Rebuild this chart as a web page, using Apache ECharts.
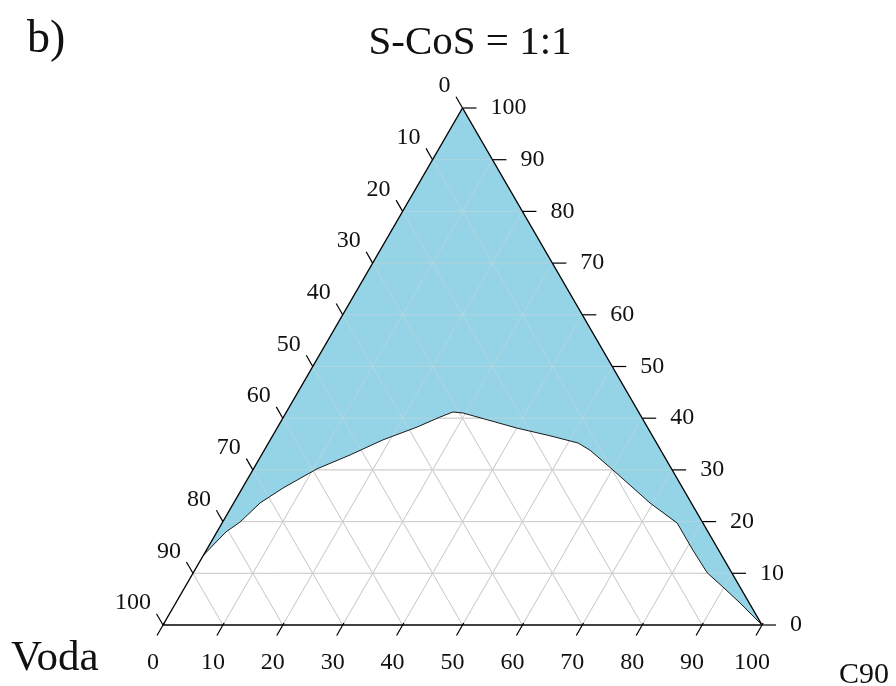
<!DOCTYPE html>
<html><head><meta charset="utf-8">
<script src="https://cdn.jsdelivr.net/npm/echarts@6/dist/echarts.min.js"></script>
<style>html,body{margin:0;padding:0;background:#fff}#c{width:896px;height:686px}</style>
</head><body><div id="c"></div>
<script>
// ---- texts ----
const panelLabel = 'b)';
const chartTitle = 'S-CoS = 1:1';
const leftCornerName = 'Voda';
const rightCornerName = 'C90';
// ---- ticks ----
const tickValues = [0, 10, 20, 30, 40, 50, 60, 70, 80, 90, 100];
const gridValues = [10, 20, 30, 40, 50, 60, 70, 80, 90];
// ---- boundary of the shaded region (percent); Voda = 100 - C90 - S-CoS ----
const boundaryC90  = [0, 1.5, 2.9, 4.4, 6.8, 10.6, 14.8, 18.8, 23.3, 26.1, 27.8, 29.6, 40.0, 46.3, 51.7, 54.4, 60.1, 69.5, 76.0, 81.2, 85.8, 89.8, 94.2, 100];
const boundarySCoS = [13.5, 18.0, 19.9, 23.6, 26.5, 30.2, 32.9, 35.8, 38.3, 40.2, 41.2, 41.0, 38.1, 36.6, 35.2, 33.8, 30.0, 23.6, 19.7, 14.5, 10.1, 7.35, 4.26, 0];

const SQ = Math.sqrt(3) / 2;
const FONT = '"Liberation Serif","Times New Roman",serif';
const TICK_FONT = '24px ' + FONT;
// ternary (C90, S-CoS) -> cartesian data coords
function tx(c90, scos) { return [c90 + scos / 2, scos * SQ]; }

// grid segments built from the grid values
const gridSegs = [];
gridValues.forEach(k => {
  const a = tx(0, k), b = tx(100 - k, k);          // constant S-CoS
  gridSegs.push([a[0], a[1], b[0], b[1]]);
  const c = tx(k, 0), d = tx(k, 100 - k);          // constant C90
  gridSegs.push([c[0], c[1], d[0], d[1]]);
  const e = tx(100 - k, 0), f = tx(0, 100 - k);    // constant Voda
  gridSegs.push([e[0], e[1], f[0], f[1]]);
});
const edgeSegs = [
  [...tx(0, 0), ...tx(100, 0)],
  [...tx(100, 0), ...tx(0, 100)],
  [...tx(0, 100), ...tx(0, 0)]
];

function segRender(style) {
  return function (params, api) {
    const p1 = api.coord([api.value(0), api.value(1)]);
    const p2 = api.coord([api.value(2), api.value(3)]);
    return { type: 'line', shape: { x1: p1[0], y1: p1[1], x2: p2[0], y2: p2[1] }, style: style };
  };
}

function fillRender(params, api) {
  const pts = [api.coord(tx(0, 100))];
  for (let i = 0; i < boundaryC90.length; i++) pts.push(api.coord(tx(boundaryC90[i], boundarySCoS[i])));
  return { type: 'polygon', shape: { points: pts }, style: { fill: '#94d4e6', stroke: null } };
}
function curveRender(params, api) {
  const pts = [];
  for (let i = 0; i < boundaryC90.length; i++) pts.push(api.coord(tx(boundaryC90[i], boundarySCoS[i])));
  return { type: 'polyline', shape: { points: pts }, style: { stroke: '#1a1a1a', lineWidth: 1, fill: null } };
}

function tickRender(params, api) {
  const v = api.value(0);
  const lab = String(v);
  const ts = { stroke: '#000', lineWidth: 1.2 };
  const children = [];
  // bottom axis (C90)
  const pb = api.coord(tx(v, 0));
  children.push({ type: 'line', shape: { x1: pb[0] + 1.2, y1: pb[1] - 2, x2: pb[0] - 6, y2: pb[1] + 10.5 }, style: ts });
  children.push({ type: 'text', x: pb[0] - 10, y: pb[1] + 38, style: { text: lab, font: TICK_FONT, fill: '#111', align: 'center', verticalAlign: 'middle' } });
  // right axis (S-CoS)
  const pr = api.coord(tx(100 - v, v));
  children.push({ type: 'line', shape: { x1: pr[0], y1: pr[1], x2: pr[0] + 14, y2: pr[1] }, style: ts });
  children.push({ type: 'text', x: pr[0] + 28, y: pr[1], style: { text: lab, font: TICK_FONT, fill: '#111', align: 'left', verticalAlign: 'middle' } });
  // left axis (Voda)
  const pl = api.coord(tx(0, 100 - v));
  children.push({ type: 'line', shape: { x1: pl[0], y1: pl[1], x2: pl[0] - 6.5, y2: pl[1] - 11.3 }, style: ts });
  children.push({ type: 'text', x: pl[0] - 12, y: pl[1] - 22, style: { text: lab, font: TICK_FONT, fill: '#111', align: 'right', verticalAlign: 'middle' } });
  return { type: 'group', children: children };
}

const chart = echarts.init(document.getElementById('c'), null, { renderer: 'canvas' });
chart.setOption({
  animation: false,
  backgroundColor: '#fff',
  grid: { left: 163, top: 108, width: 599, height: 517 },
  xAxis: { type: 'value', min: 0, max: 100, show: false },
  yAxis: { type: 'value', min: 0, max: 100 * SQ, show: false },
  graphic: [
    { type: 'text', x: 27, y: 40, style: { text: panelLabel, font: '46px ' + FONT, fill: '#111', align: 'left', verticalAlign: 'middle' } },
    { type: 'text', x: 470, y: 43, style: { text: chartTitle, font: '41px ' + FONT, fill: '#111', align: 'center', verticalAlign: 'middle' } },
    { type: 'text', x: 11, y: 659, style: { text: leftCornerName, font: '43px ' + FONT, fill: '#111', align: 'left', verticalAlign: 'middle' } },
    { type: 'text', x: 864, y: 675, style: { text: rightCornerName, font: '30px ' + FONT, fill: '#111', align: 'center', verticalAlign: 'middle' } }
  ],
  series: [
    { type: 'custom', name: 'grid', z: 1, silent: true, data: gridSegs, encode: { x: [0, 2], y: [1, 3] },
      renderItem: segRender({ stroke: '#c6c6c6', lineWidth: 1 }) },
    { type: 'custom', name: 'region', z: 2, silent: true, data: [[50, 40]],
      renderItem: fillRender },
    { type: 'custom', name: 'gridOver', z: 3, silent: true, data: gridSegs, encode: { x: [0, 2], y: [1, 3] },
      renderItem: segRender({ stroke: 'rgba(215,215,215,0.45)', lineWidth: 1 }) },
    { type: 'custom', name: 'curve', z: 4, silent: true, data: [[50, 40]],
      renderItem: curveRender },
    { type: 'custom', name: 'edges', z: 5, silent: true, data: edgeSegs, encode: { x: [0, 2], y: [1, 3] },
      renderItem: segRender({ stroke: '#000', lineWidth: 1.4 }) },
    { type: 'custom', name: 'ticks', z: 5, silent: true, data: tickValues.map(v => [v, 0]),
      renderItem: tickRender }
  ]
});
</script>
</body></html>
